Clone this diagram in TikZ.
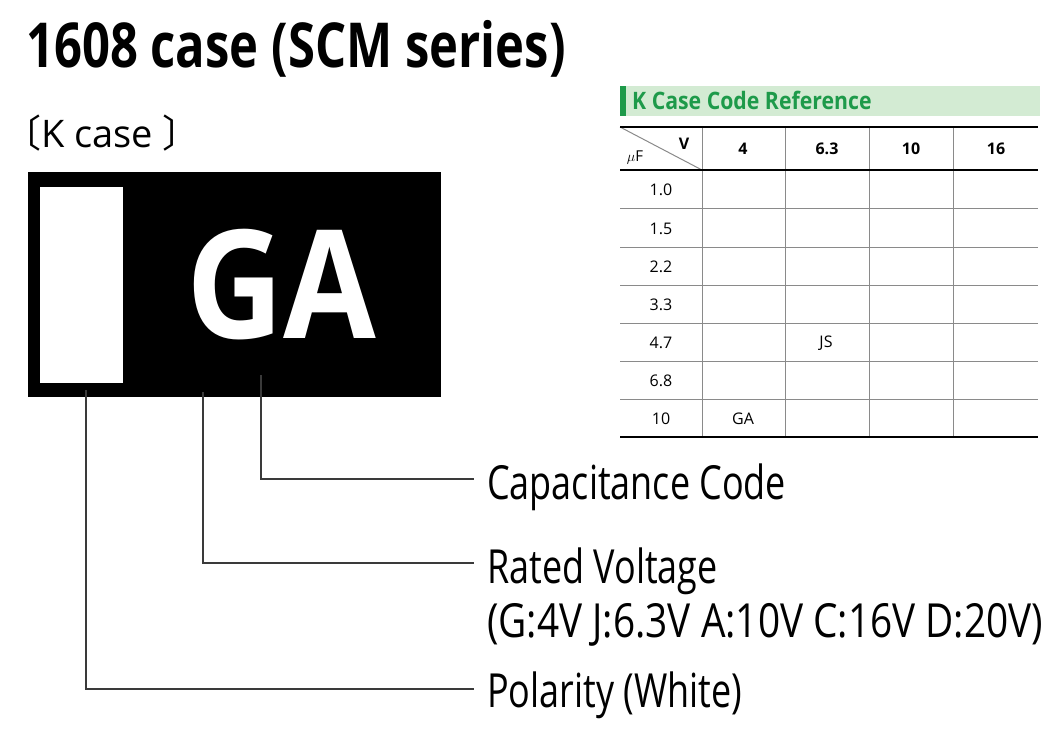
\documentclass[tikz,border=0pt]{standalone}
\usepackage{fontspec}
\setmainfont{Open Sans}
\newfontfamily\titlefont[FakeStretch=0.79]{Open Sans}
\newfontfamily\labfont[FakeStretch=0.765]{Open Sans}
\newfontfamily\labwfont[FakeStretch=0.825]{Open Sans}
\newfontfamily\gafont[FakeStretch=0.89]{Open Sans}
\newfontfamily\grfont[FakeStretch=0.885]{Open Sans}
\newfontfamily\cjk{Noto Sans CJK JP}
\definecolor{leader}{HTML}{3A3A3A}
\definecolor{grn}{HTML}{1E9A4A}
\definecolor{grnbg}{HTML}{D3EBD3}
\definecolor{grid}{HTML}{8A8A8A}
\begin{document}
\begin{tikzpicture}[x=1pt,y=-1pt,
  lead/.style={draw=leader,line width=1.5pt},
  lab/.style={anchor=base west,inner sep=0pt,font=\labfont\fontsize{47}{50}\selectfont},
  cell/.style={anchor=center,inner sep=0pt,font=\fontsize{16}{18}\selectfont},
  hcell/.style={cell,font=\fontsize{16}{18}\selectfont\bfseries},
  thin/.style={draw=grid,line width=1pt},
  thick/.style={draw=black,line width=2pt}]
\useasboundingbox (0,0) rectangle (1060,737);
% title
\node[anchor=base west,inner sep=0pt,font=\titlefont\fontsize{62}{68}\selectfont\bfseries] (title) at (26,67) {1608 case (SCM series)};
\node[anchor=base west,inner sep=0pt,font=\fontsize{38}{42}\selectfont] (kcase) at (3,147) {{\cjk 〔}K case {\cjk 〕}};
% part
\node[fill=black,minimum width=413pt,minimum height=225pt,inner sep=0pt,anchor=north west] (box) at (28,172) {};
\node[fill=white,minimum width=83pt,minimum height=196pt,inner sep=0pt,anchor=north west] (pol) at (40,187) {};
\node[anchor=base west,inner sep=0pt,text=white,font=\gafont\fontsize{151}{160}\selectfont\bfseries] (ga) at (186,338) {GA};
% leader coordinates
\coordinate (capS) at (261,375);
\coordinate (voltS) at (203,392);
\coordinate (polS) at (86,390);
\coordinate (capE) at (474,479);
\coordinate (voltE) at (474,563);
\coordinate (polE) at (474,689);
\draw[lead] (capS) |- (capE);
\draw[lead] (voltS) |- (voltE);
\draw[lead] (polS) |- (polE);
% labels
\node[lab] (capL) at (487,499) {Capacitance Code};
\node[lab] (voltL) at (487,583) {Rated Voltage};
\node[lab,font=\labwfont\fontsize{47}{50}\selectfont] (voltL2) at (487,637) {(G:4V J:6.3V A:10V C:16V D:20V)};
\node[lab] (polL) at (487,707) {Polarity (White)};
% table title bar
\fill[grnbg] (620,86) rectangle (1040,116);
\fill[grn] (620,86) rectangle (626,116);
\node[anchor=base west,inner sep=0pt,text=grn,font=\grfont\fontsize{24}{26}\selectfont\bfseries] (ttl) at (632,109) {K Case Code Reference};
% table grid
\foreach \y in {208,247,285,323,361,399} \draw[thin] (620,\y) -- (1038,\y);
\foreach \x in {702,785,869,953} \draw[thin] (\x,127) -- (\x,437);
\draw[thin] (620,127) -- (702,170);
\draw[thick] (620,127) -- (1038,127);
\draw[thick] (620,170) -- (1038,170);
\draw[thick] (620,437) -- (1038,437);
% header
\node[hcell] (hv) at (684,144) {V};
\node[inner sep=0pt,font=\fontsize{15}{16}\selectfont] (huf) at (635,158) {$\mu$\textrm{F}};
\node[hcell] (h4) at (743,149) {4};
\node[hcell] (h63) at (827,149) {6.3};
\node[hcell] (h10) at (911,149) {10};
\node[hcell] (h16) at (996,149) {16};
% rows
\node[cell] (r1) at (661,190) {1.0};
\node[cell] (r2) at (661,229) {1.5};
\node[cell] (r3) at (661,267) {2.2};
\node[cell] (r4) at (661,305) {3.3};
\node[cell] (r5) at (661,343) {4.7};
\node[cell] (r6) at (661,381) {6.8};
\node[cell] (r7) at (661,419) {10};
\node[cell] (js) at (826,343) {JS};
\node[cell] (gac) at (743,419) {GA};
\end{tikzpicture}
\end{document}
